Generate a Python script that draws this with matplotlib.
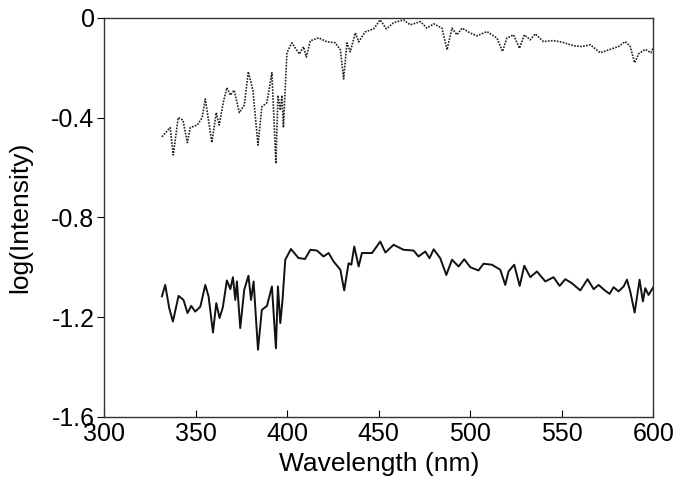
import matplotlib
matplotlib.use("Agg")
import matplotlib.pyplot as plt

plt.rcParams['font.family'] = ['Liberation Sans', 'DejaVu Sans']

# upper spectrum (dotted trace)
wl_top = [331.5, 336, 337.7, 340.4, 343, 345.4, 347, 350.8, 353.5, 355.2, 358.8, 361.2,
          362.8, 365, 367, 368.9, 371, 373.8, 376.5, 378.7, 381.2, 384, 386.1, 388.9,
          391.6, 393.8, 394.9, 396.2, 397.1, 397.9, 399.8, 402.5, 406.6, 408.9, 410.4,
          412.6, 417.1, 421.7, 426.2, 429, 430.8, 432.6, 434.4, 437.2, 439, 442.6, 447.2,
          450.8, 454.1, 458, 463.5, 467.2, 472.7, 476.3, 480, 484.5, 487.3, 490, 492.7,
          495.5, 500, 503.6, 509.1, 514.6, 517.6, 520, 523.6, 526.9, 529.5, 532.8, 535.5,
          540, 545.5, 551, 556.4, 561, 565.6, 571, 576.5, 581, 584.7, 587.4, 589.8, 592,
          595.6, 598.7, 600]
li_top = [-0.477, -0.44, -0.55, -0.40, -0.41, -0.50, -0.44, -0.43, -0.40, -0.325, -0.50, -0.38,
          -0.43, -0.34, -0.28, -0.31, -0.29, -0.38, -0.35, -0.216, -0.29, -0.51, -0.357, -0.34,
          -0.22, -0.585, -0.31, -0.37, -0.31, -0.44, -0.14, -0.10, -0.145, -0.116, -0.157,
          -0.092, -0.08, -0.096, -0.10, -0.128, -0.245, -0.10, -0.136, -0.06, -0.096, -0.056, -0.044,
          -0.008, -0.044, -0.02, -0.008, -0.028, -0.015, -0.041, -0.024, -0.041, -0.128, -0.041, -0.068,
          -0.041, -0.061, -0.072, -0.055, -0.081, -0.135, -0.081, -0.068, -0.122, -0.068, -0.088, -0.064,
          -0.095, -0.091, -0.099, -0.112, -0.115, -0.108, -0.14, -0.126, -0.115, -0.095, -0.115, -0.18, -0.144,
          -0.126, -0.14, -0.12]

# lower spectrum (solid trace)
wl_bot = [331.5, 333.3, 335.5, 337.5, 340.6, 343.3, 345.5, 347.5, 349.7, 352.5, 355.2, 357,
          359.4, 361.2, 363, 364.8, 367, 368.9, 370.3, 371.6, 372.5, 374.3, 376.5, 378.8,
          380.2, 381.6, 384, 386.1, 388.9, 391.6, 393.8, 394.9, 396.2, 397.4, 398.9, 402,
          406.1, 409.7, 412.6, 416.2, 419.8, 422.6, 425.3, 429, 431.1, 433.5, 435, 436.6,
          439, 440.8, 446.3, 450.8, 453.6, 458.1, 463.5, 469, 471.7, 475.4, 477.7, 480,
          483.6, 486.9, 490, 493.6, 496.7, 500, 504.5, 507.2, 511.8, 516.4, 519.1, 520.9,
          524, 527, 529.5, 532.8, 536.4, 541, 545.5, 548.8, 551.9, 555.5, 560.1, 564.1,
          567.4, 570.1, 573.2, 576.1, 578.3, 581, 583.8, 585.6, 587.4, 589.8, 592.5, 594.3,
          595.6, 597.4, 600]
li_bot = [-1.117, -1.071, -1.164, -1.218, -1.115, -1.131, -1.184, -1.155, -1.178, -1.158, -1.071, -1.117,
          -1.262, -1.144, -1.204, -1.160, -1.053, -1.088, -1.04, -1.131, -1.057, -1.244, -1.090, -1.034,
          -1.131, -1.057, -1.331, -1.171, -1.155, -1.077, -1.325, -1.077, -1.224, -1.131, -0.970, -0.927,
          -0.963, -0.967, -0.930, -0.933, -0.957, -0.943, -0.977, -1.010, -1.093, -0.984, -0.990, -0.917,
          -0.997, -0.943, -0.943, -0.897, -0.941, -0.910, -0.930, -0.933, -0.957, -0.937, -0.964, -0.928,
          -0.964, -1.031, -0.970, -0.997, -0.968, -1.000, -1.013, -0.986, -0.990, -1.010, -1.071, -1.017,
          -0.990, -1.075, -0.994, -1.040, -1.017, -1.057, -1.040, -1.075, -1.048, -1.064, -1.093, -1.048,
          -1.088, -1.071, -1.091, -1.107, -1.080, -1.097, -1.077, -1.050, -1.097, -1.182, -1.050, -1.137,
          -1.084, -1.111, -1.080]

x_ticks = [300, 350, 400, 450, 500, 550, 600]
y_ticks = [0, -0.4, -0.8, -1.2, -1.6]
y_labels = ['0', '-0.4', '-0.8', '-1.2', '-1.6']

fig = plt.figure(figsize=(6.77, 4.83), dpi=100)
ax = fig.add_axes([0.154, 0.137, 0.811, 0.826])

ax.plot(wl_top, li_top, color='#222222', lw=1.2, linestyle=(0, (1, 0.8)))
ax.plot(wl_bot, li_bot, color='#111111', lw=1.4)

ax.set_xlim(300, 600)
ax.set_ylim(-1.6, 0)
ax.set_xticks(x_ticks)
ax.set_yticks(y_ticks)
ax.set_yticklabels(y_labels)
ax.tick_params(axis='x', direction='in', length=5, pad=4, labelsize=18)
ax.tick_params(axis='y', direction='out', length=5, pad=2, labelsize=18)
for s in ax.spines.values():
    s.set_linewidth(1.0)
    s.set_color('#333333')

ax.set_xlabel('Wavelength (nm)', fontsize=19, labelpad=4)
ax.set_ylabel('log(Intensity)', fontsize=19, labelpad=14)

fig.savefig('out.png', dpi=100)
